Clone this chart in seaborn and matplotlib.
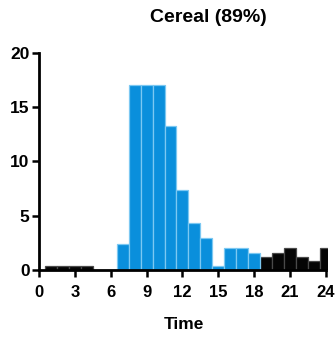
import matplotlib
matplotlib.use("Agg")
import matplotlib.pyplot as plt
import seaborn as sns
import pandas as pd

# Hourly share of cereal intake (%), by hour of day
hours = list(range(1, 25))
values = [0.4, 0.4, 0.4, 0.4, 0.0, 0.0,
          2.4, 17.0, 17.0, 17.0, 13.2, 7.4,
          4.3, 2.9, 0.4, 2.0, 2.0, 1.6,
          1.2, 1.6, 2.0, 1.2, 0.8, 2.0]
periods = ["night"] * 6 + ["day"] * 12 + ["night"] * 6
x_ticks = [0, 3, 6, 9, 12, 15, 18, 21, 24]
y_ticks = [0, 5, 10, 15, 20]

df = pd.DataFrame({"hour": hours, "value": values, "period": periods})

sns.set_theme(style="ticks")
plt.rcParams["font.family"] = ["Liberation Sans", "DejaVu Sans"]
plt.rcParams["text.color"] = "black"
plt.rcParams["axes.labelcolor"] = "black"
plt.rcParams["xtick.color"] = "black"
plt.rcParams["ytick.color"] = "black"

fig = plt.figure(figsize=(3.36, 3.37), dpi=100)
ax = fig.add_axes([0.117, 0.199, 0.859, 0.645])

palette = {"day": "#0A8FDC", "night": "#050505"}
sns.barplot(data=df, x="hour", y="value", hue="period", palette=palette,
            native_scale=True, dodge=False, width=1.0, legend=False,
            saturation=1, linewidth=0.9, ax=ax)

for patch in ax.patches:
    fc = patch.get_facecolor()
    if fc[2] > 0.5:
        patch.set_edgecolor("#7CC8F2")
    else:
        patch.set_edgecolor("#4a4a4a")

ax.set_xlim(0, 24.2)
ax.set_ylim(0, 20)
ax.set_xticks(x_ticks)
ax.set_yticks(y_ticks)
ax.set_xticklabels([str(t) for t in x_ticks], fontsize=12, fontweight="bold")
ax.set_yticklabels([str(t) for t in y_ticks], fontsize=12.5, fontweight="bold")
ax.tick_params(axis="both", length=5, width=1.8, color="black")
ax.tick_params(axis="x", pad=6)
ax.tick_params(axis="y", pad=2)
for side in ("left", "bottom"):
    ax.spines[side].set_linewidth(2)
    ax.spines[side].set_color("black")
ax.spines["bottom"].set_bounds(0, 24)
sns.despine(ax=ax)

ax.set_xlabel("Time", fontsize=12.5, fontweight="bold", labelpad=12,
              color="black")
ax.set_ylabel("")
fig.text(208 / 336, 1 - 18 / 337, "Cereal (89%)", fontsize=14,
         fontweight="bold", ha="center", va="center", color="black")

fig.savefig("out.png", dpi=100)
